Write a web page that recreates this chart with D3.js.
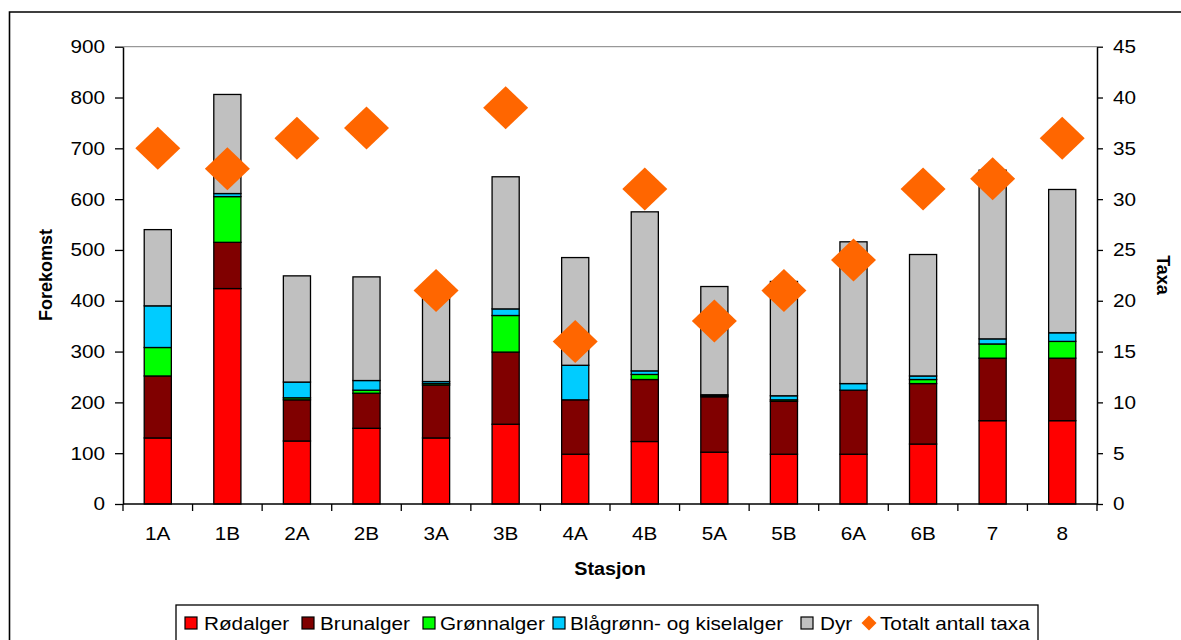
<!DOCTYPE html>
<html>
<head>
<meta charset="utf-8">
<script src="https://cdn.jsdelivr.net/npm/d3@7"></script>
<style>
  html, body { margin: 0; padding: 0; background: #fff; }
  svg { display: block; font-family: "Liberation Sans", Arial, sans-serif; }
</style>
</head>
<body>
<svg id="chart" width="1181" height="640"></svg>
<script>
const categories = ["1A","1B","2A","2B","3A","3B","4A","4B","5A","5B","6A","6B","7","8"];
const rodalger   = [130, 424, 124, 149, 130, 157,  98, 123, 102,  98,  98, 118, 164, 164];
const brunalger  = [122,  91,  81,  69, 104, 142, 107, 122, 109, 104, 126, 119, 123, 123];
const gronnalger = [ 56,  90,   4,   6,   3,  72,   0,  10,   2,   3,   0,   8,  28,  33];
const blagronn   = [ 82,   6,  31,  19,   4,  13,  68,   7,   2,   8,  13,   7,  10,  17];
const dyr        = [150, 195, 209, 204, 169, 260, 212, 313, 213, 225, 279, 239, 332, 282];
const taxa       = [ 35,  33,  36,  37,  21,  39,  16,  31,  18,  21,  24,  31,  32,  36];
const leftTicks  = [0,100,200,300,400,500,600,700,800,900];
const rightTicks = [0,5,10,15,20,25,30,35,40,45];

const seriesNames = ["Rødalger","Brunalger","Grønnalger","Blågrønn- og kiselalger","Dyr"];
const seriesData  = [rodalger, brunalger, gronnalger, blagronn, dyr];
const seriesColors = ["#FF0000","#800000","#00FF00","#00CCFF","#C0C0C0"];
const taxaName = "Totalt antall taxa";
const taxaColor = "#FF6600";

const svg = d3.select("#chart");
const L = 123, R = 1097, T = 46.7, B = 504;
const STRETCH = 1.12;

function stretch(sel, f) {
  sel.each(function() {
    const l = this.getComputedTextLength();
    this.setAttribute("textLength", l * f);
    this.setAttribute("lengthAdjust", "spacingAndGlyphs");
  });
}

// outer frame
svg.append("path").attr("d", `M9.5,700 V12 H1200`).attr("fill","none").attr("stroke","#000").attr("stroke-width",1.6);

const x = d3.scaleBand().domain(categories).range([L, R]).paddingInner(0.61).paddingOuter(0.305);
const xb = d3.scaleBand().domain(categories).range([L, R]);
const y = d3.scaleLinear().domain([0, 900]).range([B, T]);
const y2 = d3.scaleLinear().domain([0, 45]).range([B, T]);

// plot area top border
svg.append("line").attr("x1", L).attr("x2", R).attr("y1", T).attr("y2", T).attr("stroke", "#808080").attr("stroke-width", 1);

// stacked data
const table = categories.map((c, i) => {
  const o = { cat: c };
  seriesNames.forEach((s, k) => o[s] = seriesData[k][i]);
  return o;
});
const stack = d3.stack().keys(seriesNames)(table);

const gBars = svg.append("g");
stack.forEach((layer, k) => {
  gBars.selectAll(null).data(layer).enter().append("rect")
    .attr("x", d => x(d.data.cat))
    .attr("width", x.bandwidth())
    .attr("y", d => y(d[1]))
    .attr("height", d => Math.max(0, y(d[0]) - y(d[1])))
    .attr("fill", seriesColors[k])
    .attr("stroke", "#000")
    .attr("stroke-width", d => (d[1] - d[0]) > 0 ? 1.3 : 0);
});

// left axis
const axL = svg.append("g").attr("transform", `translate(${L},0)`)
  .call(d3.axisLeft(y).tickValues(leftTicks).tickSize(8).tickSizeOuter(0).tickPadding(10));
axL.select(".domain").attr("stroke", "#000").attr("stroke-width", 1.5);
axL.selectAll(".tick line").attr("stroke", "#000").attr("stroke-width", 1.3);
axL.selectAll("text").attr("font-size", 18.5).attr("fill", "#000").attr("font-family", "Liberation Sans, Arial");
stretch(axL.selectAll("text"), STRETCH);

// right axis
const axR = svg.append("g").attr("transform", `translate(${R},0)`)
  .call(d3.axisRight(y2).tickValues(rightTicks).tickSize(6).tickSizeOuter(0).tickPadding(10));
axR.select(".domain").attr("stroke", "#000").attr("stroke-width", 1.5);
axR.selectAll(".tick line").attr("stroke", "#000").attr("stroke-width", 1.3);
axR.selectAll("text").attr("font-size", 18.5).attr("fill", "#000").attr("font-family", "Liberation Sans, Arial");
stretch(axR.selectAll("text"), STRETCH);

// x axis
const gx = svg.append("g");
gx.append("line").attr("x1", L).attr("x2", R).attr("y1", B).attr("y2", B).attr("stroke", "#000").attr("stroke-width", 1.5);
const bounds = categories.map(c => xb(c)).concat([xb.range()[1]]);
gx.selectAll(null).data(bounds).enter().append("line")
  .attr("x1", d => d).attr("x2", d => d).attr("y1", B).attr("y2", B + 7)
  .attr("stroke", "#000").attr("stroke-width", 1.3);
const xl = gx.selectAll(null).data(categories).enter().append("text")
  .attr("x", d => xb(d) + xb.bandwidth() / 2).attr("y", 540)
  .attr("text-anchor", "middle").attr("font-size", 18.5).attr("fill", "#000")
  .text(d => d);
stretch(xl, STRETCH);

// taxa diamonds
const dw = 22.5, dh = 21.5;
svg.append("g").selectAll(null).data(taxa).enter().append("path")
  .attr("d", (d, i) => {
    const cx = xb(categories[i]) + xb.bandwidth() / 2, cy = y2(d);
    return `M${cx},${cy - dh} L${cx + dw},${cy} L${cx},${cy + dh} L${cx - dw},${cy} Z`;
  })
  .attr("fill", taxaColor);

// axis titles
svg.append("text").attr("transform", `translate(52,275) rotate(-90)`)
  .attr("text-anchor", "middle").attr("font-size", 18).attr("font-weight", "bold").text("Forekomst");
svg.append("text").attr("transform", `translate(1157,275) rotate(90)`)
  .attr("text-anchor", "middle").attr("font-size", 18).attr("font-weight", "bold").text("Taxa");
const st = svg.append("text").attr("x", (L + R) / 2).attr("y", 575)
  .attr("text-anchor", "middle").attr("font-size", 18).attr("font-weight", "bold").text("Stasjon");
stretch(st, 1.1);

// legend
const lg = svg.append("g");
lg.append("rect").attr("x", 176).attr("y", 605).attr("width", 862).attr("height", 45)
  .attr("fill", "#fff").attr("stroke", "#000").attr("stroke-width", 1.3);
const legendX = [185, 302, 423, 553, 801];
const legendTextX = [204, 320, 440, 570, 820];
seriesNames.forEach((s, k) => {
  lg.append("rect").attr("x", legendX[k]).attr("y", 617).attr("width", 12).attr("height", 12)
    .attr("fill", seriesColors[k]).attr("stroke", "#000").attr("stroke-width", 1.2);
  const t = lg.append("text").attr("x", legendTextX[k]).attr("y", 630)
    .attr("font-size", 18.5).attr("fill", "#000").text(s);
  stretch(t, STRETCH);
});
lg.append("path").attr("d", "M869,615.5 L876.5,623 L869,630.5 L861.5,623 Z").attr("fill", taxaColor);
const tt = lg.append("text").attr("x", 880).attr("y", 630).attr("font-size", 18.5).attr("fill", "#000").text(taxaName);
stretch(tt, STRETCH);
</script>
</body>
</html>
